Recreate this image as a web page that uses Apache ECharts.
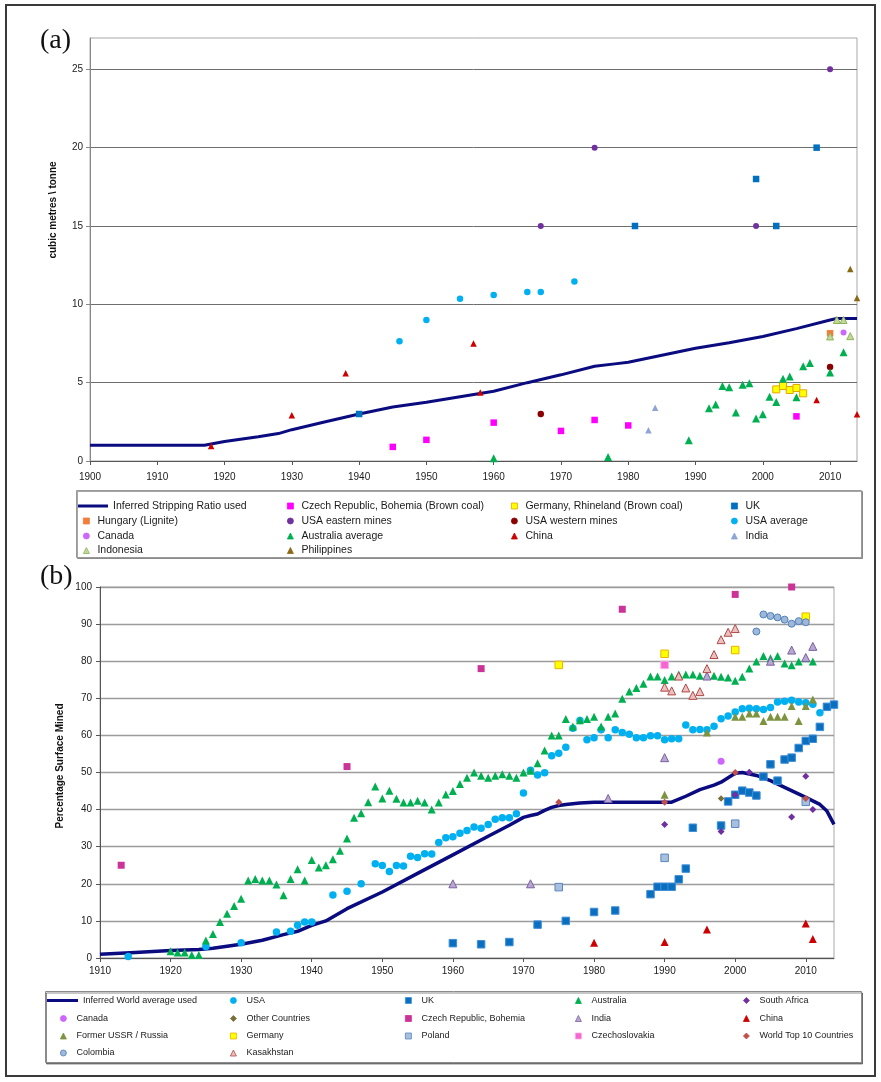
<!DOCTYPE html>
<html>
<head>
<meta charset="utf-8">
<script src="https://cdn.jsdelivr.net/npm/echarts@6/dist/echarts.min.js"></script>
<style>
  html, body { margin: 0; padding: 0; background: #fff; }
  #chartA { position: absolute; left: 0; top: 0; width: 881px; height: 565px; }
  #chartB { position: absolute; left: 0; top: 555px; width: 881px; height: 527px; }
  #frame { position: absolute; left: 5px; top: 4px; width: 871px; height: 1073px;
           border: 2px solid #3a3a3a; box-sizing: border-box; pointer-events: none; }
</style>
</head>
<body>
<div id="chartA"></div>
<div id="chartB"></div>
<div id="frame"></div>
<script>
// ---------- (a) stripping ratio, cubic metres per tonne: [year, value] ----------
const stripRatioLine = [[1900,1.0],[1917,1.0],[1920,1.25],[1925,1.55],[1928,1.75],[1930,2.0],[1935,2.5],[1940,3.0],[1945,3.45],[1950,3.75],[1955,4.1],[1960,4.45],[1965,5.0],[1970,5.5],[1975,6.05],[1978,6.2],[1980,6.3],[1985,6.75],[1990,7.2],[1995,7.55],[2000,7.95],[2005,8.45],[2010,9.0],[2011,9.1],[2014,9.1]];
const czechBohemiaBrown = [[1945,0.9],[1950,1.35],[1960,2.45],[1970,1.92],[1975,2.62],[1980,2.27],[2005,2.85]];
const germanyRhineland = [[2002,4.57],[2003,4.79],[2004,4.53],[2005,4.66],[2006,4.32]];
const ukStrip = [[1940,3.0],[1981,15],[1999,18],[2002,15],[2008,20]];
const hungaryLignite = [[2010,8.15]];
const usaEastern = [[1967,15],[1975,20],[1999,15],[2010,25]];
const usaWestern = [[1967,3.0],[2010,6.0]];
const usaAverage = [[1946,7.65],[1950,9.0],[1955,10.35],[1960,10.6],[1965,10.78],[1967,10.78],[1972,11.45]];
const canadaStrip = [[2012,8.2]];
const australiaAverage = [[1960,0.18],[1977,0.26],[1989,1.33],[1992,3.36],[1993,3.6],[1994,4.78],[1995,4.7],[1996,3.1],[1997,4.86],[1998,4.97],[1999,2.72],[2000,2.98],[2001,4.1],[2002,3.77],[2003,5.25],[2004,5.4],[2005,4.07],[2006,6.04],[2007,6.25],[2010,5.65],[2012,6.94]];
const chinaStrip = [[1918,0.95],[1930,2.92],[1938,5.6],[1957,7.5],[1958,4.38],[2008,3.9],[2014,2.98]];
const indiaStrip = [[1983,1.96],[1984,3.4]];
const indonesiaStrip = [[2010,7.95],[2011,9.0],[2012,9.0],[2013,7.97]];
const philippinesStrip = [[2013,12.25],[2014,10.4]];

// ---------- (b) percentage of coal mined at the surface: [year, %] ----------
const worldAvgLine = [[1910,1.0],[1915,1.5],[1920,2.0],[1924,2.3],[1926,2.6],[1930,3.7],[1933,4.8],[1936,6.3],[1938,7.2],[1940,8.8],[1942,10.0],[1945,13.3],[1950,17.8],[1955,22.8],[1960,27.8],[1965,32.8],[1968,35.8],[1970,37.9],[1971,38.4],[1972,38.8],[1973,39.8],[1974,40.6],[1975,41.1],[1976,41.4],[1978,41.8],[1980,42.0],[1991,42.0],[1993,43.6],[1995,45.4],[1997,46.6],[1998,47.4],[2000,49.8],[2001,50.0],[2003,49.2],[2005,47.8],[2007,46.0],[2010,43.3],[2012,41.4],[2013,39.6],[2014,36.0]];
const usaSurface = [[1914,0.4],[1925,3.1],[1930,4.1],[1935,7.0],[1937,7.2],[1938,8.8],[1939,9.7],[1940,9.7],[1943,17.0],[1945,18.0],[1947,20.0],[1949,25.4],[1950,24.9],[1951,23.3],[1952,24.9],[1953,24.8],[1954,27.4],[1955,27.1],[1956,28.1],[1957,28.0],[1958,31.1],[1959,32.4],[1960,32.7],[1961,33.6],[1962,34.4],[1963,35.3],[1964,35.0],[1965,36.0],[1966,37.4],[1967,37.8],[1968,37.8],[1969,38.9],[1970,44.5],[1971,50.6],[1972,49.3],[1973,49.9],[1974,54.5],[1975,55.2],[1976,56.8],[1977,61.9],[1978,64.0],[1979,58.8],[1980,59.4],[1981,61.5],[1982,59.4],[1983,61.5],[1984,60.8],[1985,60.3],[1986,59.4],[1987,59.4],[1988,59.9],[1989,59.9],[1990,58.8],[1991,59.1],[1992,59.1],[1993,62.8],[1994,61.5],[1995,61.6],[1996,61.5],[1997,62.5],[1998,64.5],[1999,65.2],[2000,66.3],[2001,67.2],[2002,67.3],[2003,67.2],[2004,67.0],[2005,67.5],[2006,69.0],[2007,69.2],[2008,69.5],[2009,69.0],[2010,68.8],[2011,68.4],[2012,66.1]];
const ukSurface = [[1960,4.0],[1964,3.7],[1968,4.3],[1972,9.0],[1976,10.0],[1980,12.4],[1983,12.8],[1988,17.2],[1989,19.2],[1990,19.2],[1991,19.2],[1992,21.2],[1993,24.1],[1994,35.1],[1998,35.7],[1999,42.2],[2000,44.0],[2001,45.1],[2002,44.6],[2003,43.8],[2004,48.9],[2005,52.2],[2006,47.8],[2007,53.5],[2008,54.0],[2009,56.6],[2010,58.5],[2011,59.1],[2012,62.3],[2013,67.7],[2014,68.3]];
const australiaSurface = [[1920,1.8],[1921,1.5],[1922,1.5],[1923,0.8],[1924,0.8],[1925,4.7],[1926,6.5],[1927,9.7],[1928,11.9],[1929,14.0],[1930,16.0],[1931,20.9],[1932,21.3],[1933,20.9],[1934,20.9],[1935,19.8],[1936,16.9],[1937,21.3],[1938,23.9],[1939,20.9],[1940,26.4],[1941,24.4],[1942,25.0],[1943,26.6],[1944,28.9],[1945,32.2],[1946,37.8],[1947,39.0],[1948,42.0],[1949,46.2],[1950,43.0],[1951,45.1],[1952,42.9],[1953,41.9],[1954,41.9],[1955,42.4],[1956,41.9],[1957,40.0],[1958,41.9],[1959,44.1],[1960,45.0],[1961,46.9],[1962,48.6],[1963,50.0],[1964,49.1],[1965,48.6],[1966,49.1],[1967,49.5],[1968,49.1],[1969,48.6],[1970,50.0],[1971,50.5],[1972,52.5],[1973,55.9],[1974,60.0],[1975,60.0],[1976,64.4],[1977,62.4],[1978,64.1],[1979,64.4],[1980,65.0],[1981,62.4],[1982,65.0],[1983,65.9],[1984,69.9],[1985,71.8],[1986,72.8],[1987,73.9],[1988,75.9],[1989,75.9],[1990,74.9],[1991,75.9],[1992,76.4],[1993,76.4],[1994,76.4],[1995,76.1],[1996,76.1],[1997,76.1],[1998,75.8],[1999,75.6],[2000,74.7],[2001,75.8],[2002,78.0],[2003,79.9],[2004,81.4],[2005,80.8],[2006,81.4],[2007,79.4],[2008,78.9],[2009,79.9],[2010,80.8],[2011,79.9]];
const southAfricaSurface = [[1990,36.0],[1998,34.1],[2000,44.0],[2002,50.1],[2008,38.0],[2010,49.0],[2011,40.0]];
const canadaSurface = [[1998,53.0]];
const otherCountriesSurface = [[1998,43.0]];
const czechBohemiaSurface = [[1913,25.0],[1945,51.6],[1964,78.0],[1984,94.0],[2000,98.0],[2008,100.0]];
const indiaSurface = [[1960,20.0],[1971,20.0],[1982,43.0],[1990,54.0],[1996,76.0],[2005,80.0],[2008,83.0],[2010,81.0],[2011,84.0]];
const chinaSurface = [[1980,4.1],[1990,4.3],[1996,7.7],[2010,9.3],[2011,5.1]];
const russiaSurface = [[1990,44.0],[1996,60.8],[2000,65.0],[2001,65.0],[2002,65.9],[2003,65.9],[2004,63.9],[2005,65.0],[2006,65.0],[2007,65.0],[2008,67.9],[2009,63.9],[2010,67.9],[2011,69.7]];
const germanySurface = [[1975,79.0],[1990,82.0],[2000,83.0],[2010,92.0]];
const polandSurface = [[1975,19.1],[1990,27.0],[2000,36.2],[2010,42.1]];
const czechoslovakiaSurface = [[1990,79.0]];
const worldTop10Surface = [[1975,42.0],[1990,42.0],[2000,50.0],[2010,43.0]];
const colombiaSurface = [[2003,88.0],[2004,92.6],[2005,92.2],[2006,91.8],[2007,91.2],[2008,90.1],[2009,90.8],[2010,90.5]];
const kazakhstanSurface = [[1990,73.0],[1991,72.0],[1992,76.0],[1993,72.8],[1994,70.8],[1995,71.8],[1996,78.0],[1997,81.8],[1998,85.8],[1999,87.8],[2000,88.8]];

// ---------- shared drawing helpers ----------
const NARROW = "'Liberation Sans Narrow','Arial Narrow','Liberation Sans',Arial,sans-serif";
const NAVY = '#0b0b80';
const yearLabel = v => String(v);

function lineSeries(name, data, width) {
  return { name, type: 'line', data, symbol: 'none', z: 2, animation: false, silent: true,
           lineStyle: { color: NAVY, width }, itemStyle: { color: NAVY } };
}
function markSeries(name, data, st) {
  return { name, type: 'scatter', data, symbol: st.symbol, symbolSize: st.size, z: 3,
           animation: false, silent: true,
           itemStyle: { color: st.fill, borderColor: st.border || st.fill,
                        borderWidth: st.border ? 1 : 0, opacity: 1 } };
}
// one legend component per entry, laid out on a fixed column/row grid;
// entries are cut at the right edge of the legend box
function buildLegends(columns, colX, rowY, lay) {
  const out = [];
  columns.forEach((names, c) => names.forEach((name, r) => {
    const isLine = name === lay.lineName;
    const item = isLine ? { name, icon: 'rect' } : { name };
    const left = isLine ? lay.lineLeft : colX[c] - lay.icon / 2;
    const iw = isLine ? lay.lineW : lay.icon;
    const pad = isLine ? 0 : lay.textPad;
    const textLeft = left + iw + 5 + pad;
    out.push({
      data: [item], selectedMode: false, padding: 0, itemGap: 0,
      left, top: rowY[r] - 7,
      itemWidth: iw,
      itemHeight: isLine ? 3 : lay.icon,
      itemStyle: { borderWidth: isLine ? 0 : 0.8 },
      textStyle: { fontFamily: NARROW, fontSize: lay.fs, color: '#1a1a1a', lineHeight: 14,
                   padding: [0, 0, 0, pad], width: lay.boxRight - textLeft,
                   overflow: 'truncate', ellipsis: '' }
    });
  }));
  return out;
}

// ================= chart (a) =================
const nameLineA = 'Inferred Stripping Ratio used';
const stylesA = {
  'Czech Republic, Bohemia (Brown coal)': { symbol: 'rect', size: 6.5, fill: '#FF00FF' },
  'Germany, Rhineland (Brown coal)': { symbol: 'rect', size: 7, fill: '#FFFF00', border: '#E0A800' },
  'UK': { symbol: 'rect', size: 6.5, fill: '#0070C0' },
  'Hungary (Lignite)': { symbol: 'rect', size: 6.5, fill: '#F07D3A' },
  'USA eastern mines': { symbol: 'circle', size: 6, fill: '#7030A0' },
  'USA western mines': { symbol: 'circle', size: 6.5, fill: '#8B0000' },
  'USA average': { symbol: 'circle', size: 6.5, fill: '#00B0F0' },
  'Canada': { symbol: 'circle', size: 6, fill: '#CC66FF' },
  'Australia average': { symbol: 'triangle', size: 8, fill: '#00B050' },
  'China': { symbol: 'triangle', size: 6.5, fill: '#CC0000' },
  'India': { symbol: 'triangle', size: 6.5, fill: '#8DA5D5' },
  'Indonesia': { symbol: 'triangle', size: 7, fill: '#C4D79B', border: '#8DB45A' },
  'Philippines': { symbol: 'triangle', size: 6.5, fill: '#8B6914' }
};
const seriesDataA = {
  'Czech Republic, Bohemia (Brown coal)': czechBohemiaBrown,
  'Germany, Rhineland (Brown coal)': germanyRhineland,
  'UK': ukStrip,
  'Hungary (Lignite)': hungaryLignite,
  'USA eastern mines': usaEastern,
  'USA western mines': usaWestern,
  'USA average': usaAverage,
  'Canada': canadaStrip,
  'Australia average': australiaAverage,
  'China': chinaStrip,
  'India': indiaStrip,
  'Indonesia': indonesiaStrip,
  'Philippines': philippinesStrip
};
const legendColsA = [
  [nameLineA, 'Hungary (Lignite)', 'Canada', 'Indonesia'],
  ['Czech Republic, Bohemia (Brown coal)', 'USA eastern mines', 'Australia average', 'Philippines'],
  ['Germany, Rhineland (Brown coal)', 'USA western mines', 'China'],
  ['UK', 'USA average', 'India']
];

const chartA = echarts.init(document.getElementById('chartA'), null, { renderer: 'canvas' });
chartA.setOption({
  backgroundColor: 'transparent',
  animation: false,
  grid: { left: 90, top: 38, width: 767, height: 423, show: true, borderColor: '#a8a8a8', borderWidth: 1 },
  xAxis: {
    type: 'value', min: 1900, max: 2014, interval: 10,
    axisLine: { onZero: false, lineStyle: { color: '#555', width: 1 } },
    axisTick: { show: true, length: 4, lineStyle: { color: '#555' } },
    axisLabel: { showMaxLabel: false, formatter: yearLabel, fontFamily: NARROW, fontSize: 10, color: '#1a1a1a', margin: 11 },
    splitLine: { show: false }
  },
  yAxis: {
    type: 'value', min: 0, max: 27, interval: 5,
    axisLine: { show: true, lineStyle: { color: '#888', width: 1 } },
    axisTick: { show: true, length: 4, lineStyle: { color: '#888' } },
    axisLabel: { showMaxLabel: false, fontFamily: NARROW, fontSize: 10, color: '#1a1a1a', margin: 7 },
    splitLine: { showMaxLine: false, lineStyle: { color: '#6e6e6e', width: 1 } }
  },
  legend: buildLegends(legendColsA, [86, 290, 514, 734], [506, 521, 536, 550.5],
    { lineName: nameLineA, lineLeft: 78, lineW: 30, icon: 6, textPad: 3, fs: 10.5, boxRight: 860 }),
  graphic: [
    { type: 'rect', z: -1, shape: { x: 76.5, y: 490.5, width: 785, height: 67 },
      style: { fill: '#fff', stroke: '#9a9a9a', lineWidth: 1, shadowColor: 'rgba(0,0,0,0.35)', shadowOffsetX: 1, shadowOffsetY: 1 } },
    { type: 'text', x: 40, y: 27, style: { text: '(a)', font: "28px 'Liberation Serif', serif", fill: '#111' } },
    { type: 'text', x: 53, y: 210, rotation: Math.PI / 2,
      style: { text: 'cubic metres \\ tonne', font: "bold 10px 'Liberation Sans', Arial, sans-serif", fill: '#111',
               align: 'center', verticalAlign: 'middle' } }
  ],
  series: [lineSeries(nameLineA, stripRatioLine, 3)].concat(
    Object.keys(seriesDataA).map(n => markSeries(n, seriesDataA[n], stylesA[n])))
});

// ================= chart (b) =================
const nameLineB = 'Inferred World average used';
const stylesB = {
  'USA': { symbol: 'circle', size: 7.5, fill: '#00B0F0' },
  'UK': { symbol: 'rect', size: 7.5, fill: '#0B6FC0', border: '#3F8FD8' },
  'Australia': { symbol: 'triangle', size: 8, fill: '#00B050' },
  'South Africa': { symbol: 'diamond', size: 7, fill: '#7030A0' },
  'Canada': { symbol: 'circle', size: 7, fill: '#CC66FF' },
  'Other Countries': { symbol: 'diamond', size: 6.5, fill: '#77703A' },
  'Czech Republic, Bohemia': { symbol: 'rect', size: 7, fill: '#CC3399' },
  'India': { symbol: 'triangle', size: 8, fill: '#B8A8D0', border: '#7A5FA3' },
  'China': { symbol: 'triangle', size: 8, fill: '#CC0000' },
  'Former USSR / Russia': { symbol: 'triangle', size: 8, fill: '#7E9340' },
  'Germany': { symbol: 'rect', size: 7.5, fill: '#FFFF00', border: '#E8B400' },
  'Poland': { symbol: 'rect', size: 7.5, fill: '#A8C0DE', border: '#5B85C0' },
  'Czechoslovakia': { symbol: 'rect', size: 7.5, fill: '#F466D0', border: '#FFA8E8' },
  'World Top 10 Countries Average': { symbol: 'diamond', size: 7, fill: '#C0504D' },
  'Colombia': { symbol: 'circle', size: 7, fill: '#9FB7D9', border: '#4F81BD' },
  'Kasakhstan': { symbol: 'triangle', size: 8, fill: '#ECC0BE', border: '#B04A48' }
};
const seriesDataB = {
  'USA': usaSurface,
  'UK': ukSurface,
  'Australia': australiaSurface,
  'South Africa': southAfricaSurface,
  'Canada': canadaSurface,
  'Other Countries': otherCountriesSurface,
  'Czech Republic, Bohemia': czechBohemiaSurface,
  'India': indiaSurface,
  'China': chinaSurface,
  'Former USSR / Russia': russiaSurface,
  'Germany': germanySurface,
  'Poland': polandSurface,
  'Czechoslovakia': czechoslovakiaSurface,
  'World Top 10 Countries Average': worldTop10Surface,
  'Colombia': colombiaSurface,
  'Kasakhstan': kazakhstanSurface
};
const legendColsB = [
  [nameLineB, 'Canada', 'Former USSR / Russia', 'Colombia'],
  ['USA', 'Other Countries', 'Germany', 'Kasakhstan'],
  ['UK', 'Czech Republic, Bohemia', 'Poland'],
  ['Australia', 'India', 'Czechoslovakia'],
  ['South Africa', 'China', 'World Top 10 Countries Average']
];

const chartB = echarts.init(document.getElementById('chartB'), null, { renderer: 'canvas' });
chartB.setOption({
  backgroundColor: 'transparent',
  animation: false,
  grid: { left: 100, top: 32, width: 734, height: 371, show: true, borderColor: '#a8a8a8', borderWidth: 1 },
  xAxis: {
    type: 'value', min: 1910, max: 2014, interval: 10,
    axisLine: { onZero: false, lineStyle: { color: '#555', width: 1 } },
    axisTick: { show: true, length: 4, lineStyle: { color: '#555' } },
    axisLabel: { showMaxLabel: false, formatter: yearLabel, fontFamily: NARROW, fontSize: 10, color: '#1a1a1a', margin: 8 },
    splitLine: { show: false }
  },
  yAxis: {
    type: 'value', min: 0, max: 100, interval: 10,
    axisLine: { show: true, lineStyle: { color: '#555', width: 1 } },
    axisTick: { show: true, length: 4, lineStyle: { color: '#555' } },
    axisLabel: { fontFamily: NARROW, fontSize: 10, color: '#1a1a1a', margin: 8 },
    splitLine: { lineStyle: { color: '#9c9c9c', width: 1.3 } }
  },
  legend: buildLegends(legendColsB, [63, 233, 408, 578, 746], [445.5, 463.5, 481, 498],
    { lineName: nameLineB, lineLeft: 47, lineW: 31, icon: 6, textPad: 5, fs: 9, boxRight: 861 }),
  graphic: [
    { type: 'rect', z: -1, shape: { x: 45.5, y: 436.5, width: 816, height: 71 },
      style: { fill: '#fff', stroke: '#8a8a8a', lineWidth: 1, shadowColor: 'rgba(0,0,0,0.45)', shadowOffsetX: 1, shadowOffsetY: 1.5 } },
    { type: 'text', x: 40, y: 8, style: { text: '(b)', font: "28px 'Liberation Serif', serif", fill: '#111' } },
    { type: 'text', x: 60, y: 211, rotation: Math.PI / 2,
      style: { text: 'Percentage Surface Mined', font: "bold 10px 'Liberation Sans', Arial, sans-serif", fill: '#111',
               align: 'center', verticalAlign: 'middle' } }
  ],
  series: [lineSeries(nameLineB, worldAvgLine, 3.5)].concat(
    Object.keys(seriesDataB).map(n => markSeries(n, seriesDataB[n], stylesB[n])))
});
</script>
</body>
</html>
